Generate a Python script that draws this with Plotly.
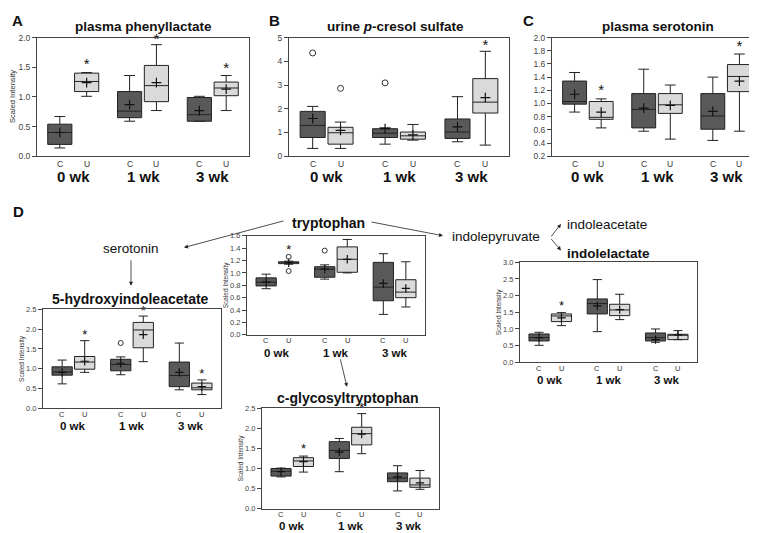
import plotly.graph_objects as go

W, H = 757, 533

weeks = ["0 wk", "1 wk", "3 wk"]
groups = ["C", "U", "C", "U", "C", "U"]
slots = [0, 1, 2.6, 3.6, 5.2, 6.2]

# order of every list below: C 0wk, U 0wk, C 1wk, U 1wk, C 3wk, U 3wk

# A: plasma phenyllactate
phe_low = [0.14, 1.01, 0.59, 0.77, 0.59, 0.77]
phe_q1 = [0.20, 1.09, 0.65, 0.92, 0.59, 1.02]
phe_med = [0.40, 1.26, 0.76, 1.19, 0.70, 1.15]
phe_q3 = [0.54, 1.40, 1.09, 1.53, 0.99, 1.25]
phe_high = [0.67, 1.41, 1.36, 1.88, 1.01, 1.36]
phe_mean = [0.40, 1.24, 0.87, 1.24, 0.77, 1.13]
phe_out = []
phe_star = [(1, 1.53), (3, 1.96), (5, 1.46)]

# B: urine p-cresol sulfate
pcs_low = [0.33, 0.33, 0.51, 0.68, 0.61, 0.47]
pcs_q1 = [0.79, 0.51, 0.79, 0.72, 0.75, 1.82]
pcs_med = [1.30, 0.99, 0.97, 0.86, 1.02, 2.28]
pcs_q3 = [1.89, 1.22, 1.16, 1.02, 1.57, 3.27]
pcs_high = [2.10, 1.44, 1.20, 1.34, 2.51, 4.42]
pcs_mean = [1.59, 1.09, 1.16, 0.90, 1.24, 2.47]
pcs_out = [(0, 4.35), (1, 2.86), (2, 3.09)]
pcs_star = [(5, 4.65)]

# C: plasma serotonin
ser_low = [0.87, 0.63, 0.58, 0.46, 0.44, 0.58]
ser_q1 = [0.99, 0.76, 0.63, 0.85, 0.61, 1.18]
ser_med = [1.03, 0.79, 0.91, 0.98, 0.81, 1.41]
ser_q3 = [1.34, 1.03, 1.15, 1.15, 1.15, 1.59]
ser_high = [1.47, 1.07, 1.52, 1.28, 1.40, 1.75]
ser_mean = [1.14, 0.87, 0.93, 0.97, 0.88, 1.34]
ser_out = []
ser_star = [(1, 1.18), (5, 1.85)]

# D: tryptophan
trp_low = [0.745, 1.14, 0.90, 1.00, 0.33, 0.45]
trp_q1 = [0.79, 1.15, 0.93, 1.01, 0.55, 0.60]
trp_med = [0.85, 1.165, 1.06, 1.22, 0.77, 0.69]
trp_q3 = [0.92, 1.18, 1.10, 1.42, 1.17, 0.89]
trp_high = [0.98, 1.19, 1.13, 1.54, 1.31, 1.18]
trp_mean = [0.85, 1.165, 1.06, 1.22, 0.83, 0.75]
trp_out = [(1, 1.26), (1, 1.03), (2, 1.36)]
trp_star = [(1, 1.36)]

# D: 5-hydroxyindoleacetate
hia_low = [0.62, 0.91, 0.85, 1.18, 0.47, 0.35]
hia_q1 = [0.84, 0.99, 0.95, 1.53, 0.55, 0.47]
hia_med = [0.92, 1.17, 1.11, 1.98, 0.83, 0.52]
hia_q3 = [1.05, 1.31, 1.24, 2.17, 1.17, 0.64]
hia_high = [1.22, 1.71, 1.30, 2.33, 1.65, 0.72]
hia_mean = [0.91, 1.19, 1.14, 1.86, 0.91, 0.55]
hia_out = [(2, 1.65)]
hia_star = [(1, 1.83), (3, 2.45), (5, 0.85)]

# D: indolelactate
ila_low = [0.51, 1.10, 0.92, 1.28, 0.60, 0.68]
ila_q1 = [0.64, 1.22, 1.45, 1.40, 0.64, 0.68]
ila_med = [0.74, 1.39, 1.76, 1.57, 0.74, 0.81]
ila_q3 = [0.85, 1.45, 1.90, 1.74, 0.88, 0.84]
ila_high = [0.90, 1.49, 2.48, 2.04, 1.00, 0.95]
ila_mean = [0.74, 1.33, 1.69, 1.58, 0.68, 0.82]
ila_out = []
ila_star = [(1, 1.66)]

# D: c-glycosyltryptophan
cgt_low = [0.79, 0.91, 0.92, 1.37, 0.44, 0.48]
cgt_q1 = [0.81, 1.05, 1.25, 1.59, 0.67, 0.53]
cgt_med = [0.93, 1.19, 1.45, 1.87, 0.76, 0.59]
cgt_q3 = [1.00, 1.27, 1.67, 2.03, 0.89, 0.76]
cgt_high = [1.01, 1.31, 1.75, 2.37, 1.07, 0.95]
cgt_mean = [0.92, 1.17, 1.41, 1.86, 0.79, 0.64]
cgt_out = []
cgt_star = [(1, 1.47), (3, 2.49)]

FONT = "Arial, Liberation Sans, sans-serif"
DARK = "#595959"
LIGHT = "#dadada"
EDGE = "#222222"


def px(x):
    return x / W


def py(y):
    return 1 - y / H


def label(x, y, text, size, color="#111", xref="paper", xanchor="center", angle=0):
    # fixed anchors: plotly's "auto" anchoring shifts texts near the edges
    return dict(x=x, y=y, xref=xref, yref="paper", text=text, showarrow=False,
                xanchor=xanchor, yanchor="middle", textangle=angle,
                font=dict(family=FONT, size=size, color=color))


panels = [
    dict(title="plasma phenyllactate", stats=(phe_low, phe_q1, phe_med, phe_q3, phe_high, phe_mean),
         out=phe_out, star=phe_star, box=(29, 241, 25, 146), yr=[0, 2.0], dt=0.5, fmt=".1f",
         big=True, ytitle=True, tpos=(135, 14)),
    dict(title="urine <i>p</i>-cresol sulfate", stats=(pcs_low, pcs_q1, pcs_med, pcs_q3, pcs_high, pcs_mean),
         out=pcs_out, star=pcs_star, box=(281, 501, 25, 146), yr=[0, 5], dt=1, fmt="d",
         big=True, ytitle=False, tpos=(387, 14)),
    dict(title="plasma serotonin", stats=(ser_low, ser_q1, ser_med, ser_q3, ser_high, ser_mean),
         out=ser_out, star=ser_star, box=(544, 754, 25, 146), yr=[0.2, 2.0], dt=0.2, fmt=".1f",
         big=True, ytitle=False, tpos=(650, 14)),
    dict(title="tryptophan", stats=(trp_low, trp_q1, trp_med, trp_q3, trp_high, trp_mean),
         out=trp_out, star=trp_star, box=(239, 417, 227, 328), yr=[0, 1.6], dt=0.2, fmt=".1f",
         big=False, ytitle=True, tpos=(320, 214)),
    dict(title="5-hydroxyindoleacetate", stats=(hia_low, hia_q1, hia_med, hia_q3, hia_high, hia_mean),
         out=hia_out, star=hia_star, box=(35, 213, 302, 403), yr=[0, 2.5], dt=0.5, fmt=".1f",
         big=False, ytitle=True, tpos=(122, 291)),
    dict(title=None, stats=(ila_low, ila_q1, ila_med, ila_q3, ila_high, ila_mean),
         out=ila_out, star=ila_star, box=(512, 689, 254, 356), yr=[0, 3.0], dt=0.5, fmt=".1f",
         big=False, ytitle=True, tpos=None),
    dict(title="c-glycosyltryptophan", stats=(cgt_low, cgt_q1, cgt_med, cgt_q3, cgt_high, cgt_mean),
         out=cgt_out, star=cgt_star, box=(254, 431, 403, 505), yr=[0, 2.5], dt=0.5, fmt=".1f",
         big=False, ytitle=True, tpos=(340, 392)),
]

fig = go.Figure()
annotations = []
XR = [-0.85, 7.05]

for n, p in enumerate(panels, start=1):
    sfx = "" if n == 1 else str(n)
    xa, ya = "x" + sfx, "y" + sfx
    low, q1, med, q3, high, mean = p["stats"]
    for start, fill in [(0, DARK), (1, LIGHT)]:
        idx = list(range(start, 6, 2))
        fig.add_trace(go.Box(
            x=[slots[i] for i in idx],
            lowerfence=[low[i] for i in idx], q1=[q1[i] for i in idx],
            median=[med[i] for i in idx], q3=[q3[i] for i in idx],
            upperfence=[high[i] for i in idx],
            fillcolor=fill, line=dict(color=EDGE, width=1), width=0.9,
            whiskerwidth=0.45, boxpoints=False, hoverinfo="skip",
            xaxis=xa, yaxis=ya,
        ))
    fig.add_trace(go.Scatter(
        x=slots, y=mean, mode="markers", xaxis=xa, yaxis=ya,
        marker=dict(symbol="cross-thin", size=7 if p["big"] else 6, color="#111",
                    line=dict(color="#111", width=1.2)),
        hoverinfo="skip",
    ))
    if p["out"]:
        fig.add_trace(go.Scatter(
            x=[slots[i] for i, v in p["out"]], y=[v for i, v in p["out"]],
            mode="markers", xaxis=xa, yaxis=ya, cliponaxis=False,
            marker=dict(symbol="circle-open", size=6 if p["big"] else 5, color="#333",
                        line=dict(width=1)),
            hoverinfo="skip",
        ))
    fig.add_trace(go.Scatter(
        x=[slots[i] for i, v in p["star"]], y=[v for i, v in p["star"]],
        mode="text", text=["*"] * len(p["star"]), textposition="middle center",
        textfont=dict(family=FONT, size=15 if p["big"] else 13, color="#111"),
        xaxis=xa, yaxis=ya, cliponaxis=False, hoverinfo="skip",
    ))

    x0, x1, y0, y1 = p["box"]
    tick_size = 8.5 if p["big"] else 7.5
    fig.update_layout(**{
        "xaxis" + sfx: dict(domain=[px(x0), px(x1)], range=XR, anchor=ya,
                            showline=True, mirror=True, linecolor="#444", linewidth=1,
                            showticklabels=False, ticks="", showgrid=False, zeroline=False),
        "yaxis" + sfx: dict(domain=[py(y1), py(y0)], range=p["yr"], dtick=p["dt"],
                            tickformat=p["fmt"], anchor=xa,
                            showline=True, mirror=True, linecolor="#444", linewidth=1,
                            ticks="outside", ticklen=4, tickcolor="#444",
                            tickfont=dict(family=FONT, size=tick_size, color="#444"),
                            showgrid=False, zeroline=False),
    })

    cu_gap = 8 if p["big"] else 6
    wk_gap = 21 if p["big"] else 18
    for i, g in enumerate(groups):
        annotations.append(label(slots[i], py(y1 + cu_gap), g, 8.5 if p["big"] else 7.5,
                                 color="#333", xref=xa))
    for k, wk in enumerate(weeks):
        annotations.append(label((slots[2 * k] + slots[2 * k + 1]) / 2, py(y1 + wk_gap),
                                 "<b>%s</b>" % wk, 15 if p["big"] else 11.5, xref=xa))
    if p["ytitle"]:
        off = 24 if p["big"] else 21
        annotations.append(label(px(x0 - off), py((y0 + y1) / 2), "Scaled Intensity",
                                 7.5 if p["big"] else 6.5, color="#333", angle=-90))
    if p["tpos"]:
        annotations.append(label(px(p["tpos"][0]), py(p["tpos"][1]), "<b>%s</b>" % p["title"],
                                 13.5 if p["big"] else 14))

# panel letters
for letter, (lx, ly) in {"A": (9, 8), "B": (266, 8), "C": (520, 8), "D": (10, 202)}.items():
    annotations.append(label(px(lx), py(ly), "<b>%s</b>" % letter, 15))

# pathway labels
for txt, (lx, ly), bold, anchor in [
    ("serotonin", (123, 240), False, "center"),
    ("indolepyruvate", (442, 228), False, "left"),
    ("indoleacetate", (557, 216), False, "left"),
    ("indolelactate", (557, 245), True, "left"),
]:
    annotations.append(label(px(lx), py(ly), "<b>%s</b>" % txt if bold else txt, 13.5,
                             xanchor=anchor))

# pathway arrows: (tail, head)
for (tx, ty), (hx, hy) in [
    ((277, 212), (176, 239)),
    ((362, 213), (435, 227)),
    ((123, 251), (123, 278)),
    ((332, 352), (339, 381)),
    ((542, 229), (553, 215)),
    ((542, 229), (553, 242)),
]:
    annotations.append(dict(x=px(hx), y=py(hy), xref="paper", yref="paper",
                            ax=tx - hx, ay=ty - hy, text="", showarrow=True,
                            arrowhead=2, arrowsize=1, arrowwidth=0.8, arrowcolor="#222", standoff=0))

fig.update_layout(
    width=W, height=H, margin=dict(l=0, r=0, t=0, b=0),
    paper_bgcolor="white", plot_bgcolor="white", showlegend=False,
    boxmode="overlay", annotations=annotations,
    font=dict(family=FONT),
)

fig.write_html("out.html")
